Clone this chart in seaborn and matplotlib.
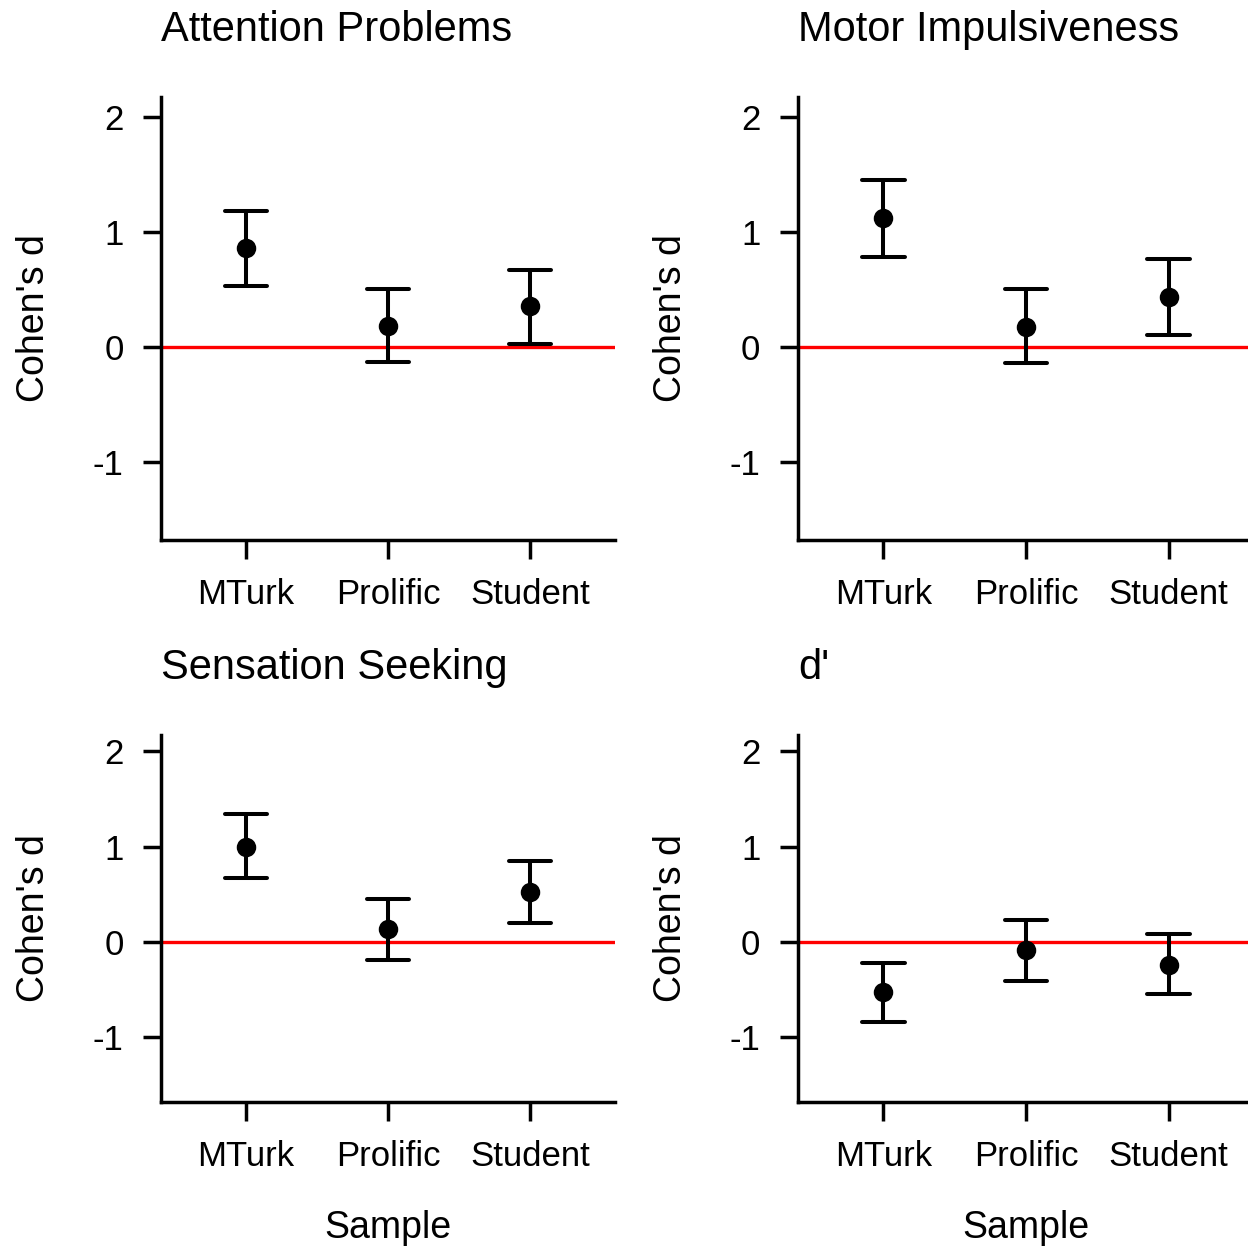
import matplotlib
matplotlib.use("Agg")
import matplotlib.pyplot as plt
import seaborn as sns
import pandas as pd

samples = ["MTurk", "Prolific", "Student"]
titles = ["Attention Problems", "Motor Impulsiveness", "Sensation Seeking", "d'"]

attention_d = [0.86, 0.18, 0.35]
attention_lo = [0.53, -0.13, 0.02]
attention_hi = [1.18, 0.50, 0.67]

motor_d = [1.12, 0.17, 0.43]
motor_lo = [0.78, -0.14, 0.10]
motor_hi = [1.45, 0.50, 0.76]

sensation_d = [1.00, 0.13, 0.52]
sensation_lo = [0.67, -0.19, 0.20]
sensation_hi = [1.34, 0.45, 0.85]

dprime_d = [-0.53, -0.09, -0.24]
dprime_lo = [-0.84, -0.41, -0.55]
dprime_hi = [-0.22, 0.23, 0.08]

yticks = [-1, 0, 1, 2]

sns.set_style("ticks")
plt.rcParams["font.family"] = ["Liberation Sans", "DejaVu Sans"]
plt.rcParams["text.color"] = "black"
plt.rcParams["axes.labelcolor"] = "black"

W, H = 1248, 1247
fig = plt.figure(figsize=(W / 100, H / 100), dpi=100)

# pixel boxes: left, top, right, bottom
boxes = [(161, 97, 615, 540), (798, 97, 1254, 540),
         (161, 735, 615, 1102), (798, 735, 1254, 1102)]

panels = [(attention_d, attention_lo, attention_hi),
          (motor_d, motor_lo, motor_hi),
          (sensation_d, sensation_lo, sensation_hi),
          (dprime_d, dprime_lo, dprime_hi)]

for i, ((est, lo, hi), box, title) in enumerate(zip(panels, boxes, titles)):
    l, t, r, b = box
    ax = fig.add_axes([l / W, 1 - b / H, (r - l) / W, (b - t) / H])
    rows = []
    for s, e, lo_v, hi_v in zip(samples, est, lo, hi):
        for v in (lo_v, e, hi_v):
            rows.append({"Sample": s, "d": v})
    df = pd.DataFrame(rows)
    ax.axhline(0, color="#ff0000", lw=2.4, zorder=1)
    sns.pointplot(data=df, x="Sample", y="d", order=samples, estimator="median",
                  errorbar=("pi", 100), color="black", markers="o", linestyles="none",
                  capsize=0.3, err_kws={"linewidth": 2.9}, markersize=12, ax=ax,
                  zorder=3)
    ax.set_xlim(-0.6, 2.6)
    ax.set_ylim(-1.68, 2.17)
    ax.set_yticks(yticks)
    ax.set_yticklabels([str(v) for v in yticks])
    sns.despine(ax=ax)
    for sp in ("left", "bottom"):
        ax.spines[sp].set_linewidth(2.5)
        ax.spines[sp].set_color("black")
    ax.tick_params(axis="y", length=13, width=2.5, pad=14, labelsize=25, colors="black")
    ax.tick_params(axis="x", length=14, width=2.5, pad=13, labelsize=25, colors="black")
    ax.set_ylabel("Cohen's d", fontsize=27, color="black")
    ax.yaxis.set_label_coords(-0.24, 0.5)
    if i >= 2:
        ax.set_xlabel("Sample", fontsize=27, color="black")
        ax.xaxis.set_label_coords(0.5, -0.295)
    else:
        ax.set_xlabel("")
    ax.set_title(title, loc="left", fontsize=30, pad=40, color="black")

fig.savefig("out.png", dpi=100)
